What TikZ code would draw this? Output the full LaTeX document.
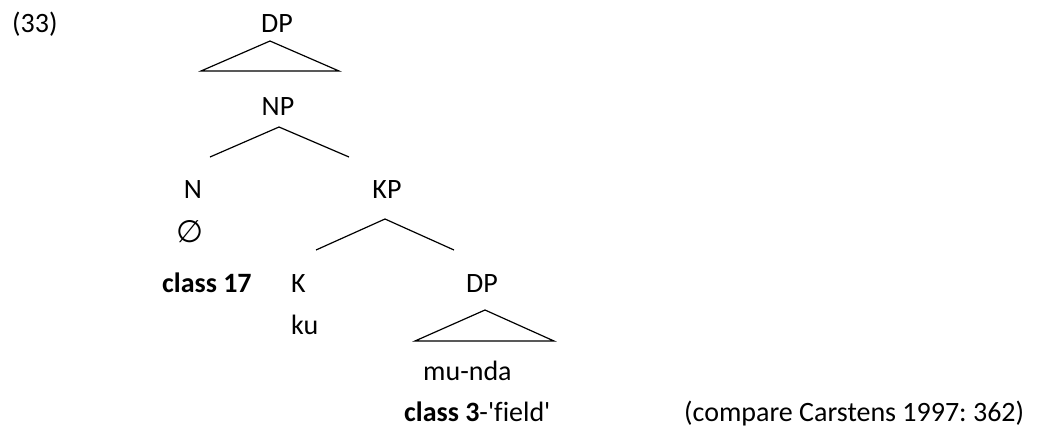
\documentclass[tikz,border=0pt]{standalone}
\usepackage{fontspec}
\setmainfont{Carlito}[Ligatures=CommonOff]
\newfontfamily\symfont{DejaVu Sans}
\frenchspacing
\begin{document}
\begin{tikzpicture}[x=1pt,y=-1pt,
  lbl/.style={inner sep=0pt,font=\fontsize{28}{33}\selectfont},
  edge/.style={line width=1.2pt}]
\useasboundingbox (0,0) rectangle (1045,432);
% labels
\node[lbl,anchor=base west] (ex) at (12,32) {(33)};
\node[lbl,anchor=base] (dp1) at (277,32) {DP};
\node[lbl,anchor=base] (np) at (278,115) {NP};
\node[lbl,anchor=base] (n) at (193,198) {N};
\node[lbl,anchor=base] (kp) at (387,198) {KP};
\node[lbl,anchor=base] (empty) at (190,242) {\symfont\fontsize{31}{34}\selectfont ∅};
\node[lbl,anchor=base west] (cl17) at (162,292) {\bfseries class 17};
\node[lbl,anchor=base west] (k) at (291,292) {K};
\node[lbl,anchor=base] (dp2) at (482,292) {DP};
\node[lbl,anchor=base west] (ku) at (291,334) {ku};
\node[lbl,anchor=base west] (munda) at (423,380) {mu-nda};
\node[lbl,anchor=base west] (gloss) at (404,421) {\textbf{class 3}-\textquotesingle field\textquotesingle};
\node[lbl,anchor=base west] (cmp) at (684,421) {(compare Carstens 1997: 362)};
% coordinates of branch ends
\coordinate (t1a) at (270,41);
\coordinate (t1l) at (201,71);
\coordinate (t1r) at (339,71);
\coordinate (npa) at (279,127);
\coordinate (npl) at (210,157);
\coordinate (npr) at (349,157);
\coordinate (kpa) at (385,219);
\coordinate (kpl) at (316,250);
\coordinate (kpr) at (454,250);
\coordinate (t2a) at (485,310);
\coordinate (t2l) at (415,341);
\coordinate (t2r) at (554,341);
% branches
\draw[edge] (t1a) -- (t1l) -- (t1r) -- cycle;
\draw[edge] (npl) -- (npa) -- (npr);
\draw[edge] (kpl) -- (kpa) -- (kpr);
\draw[edge] (t2a) -- (t2l) -- (t2r) -- cycle;
\end{tikzpicture}
\end{document}
